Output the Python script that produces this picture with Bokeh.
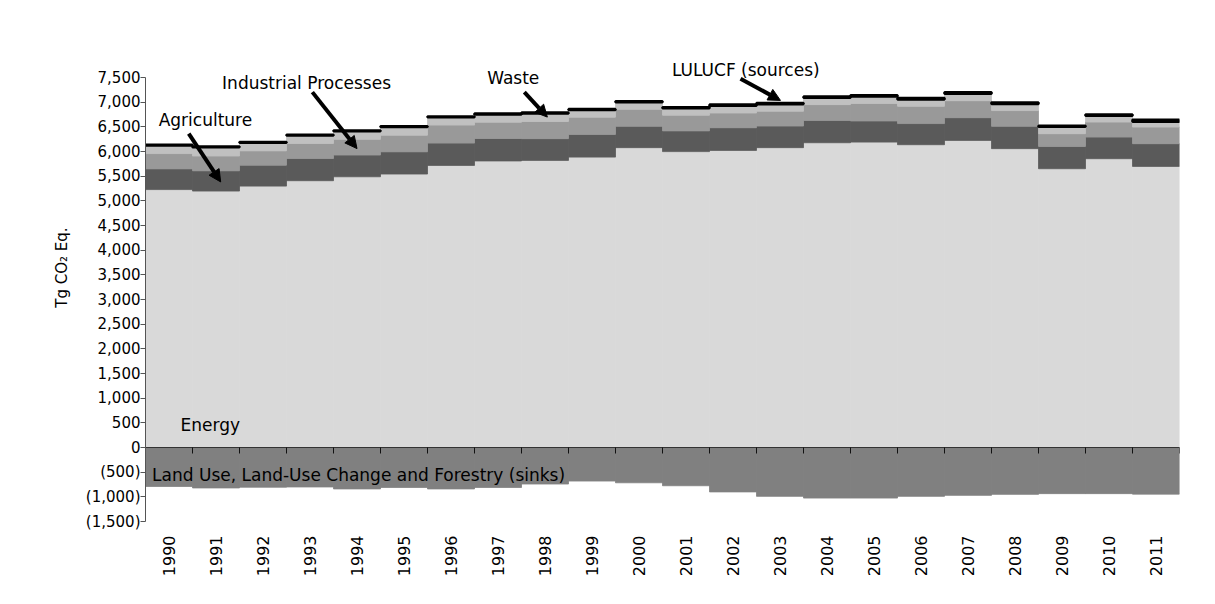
import math
from bokeh.plotting import figure
from bokeh.models import (ColumnDataSource, Range1d, LinearAxis, FixedTicker,
                          CustomJSTickFormatter, Label, Arrow, NormalHead)
from bokeh.embed import file_html
from bokeh.resources import INLINE

# ---- data (Tg CO2 Eq.) ----
years = [str(y) for y in range(1990, 2012)]
energy = [5230, 5200, 5300, 5410, 5490, 5545, 5720, 5810, 5822, 5888, 6080,
          6000, 6024, 6080, 6180, 6193, 6140, 6227, 6060, 5653, 5856, 5700]
agriculture = [420, 410, 425, 450, 440, 450, 452, 455, 440, 460, 432,
               420, 460, 438, 452, 428, 428, 460, 452, 452, 438, 460]
industrial = [310, 300, 290, 305, 318, 338, 365, 330, 350, 350, 345,
              318, 298, 300, 320, 355, 350, 345, 320, 258, 304, 337]
waste = [165, 180, 165, 160, 165, 165, 160, 160, 160, 145, 145,
         140, 150, 145, 140, 140, 140, 140, 135, 140, 130, 110]
lulucf_sources = [14, 14, 14, 15, 15, 15, 16, 17, 18, 18, 20,
                  20, 20, 22, 22, 25, 28, 30, 27, 22, 22, 37]
lulucf_sinks = [-790, -820, -805, -800, -840, -810, -840, -810, -740, -680, -715,
                -775, -900, -990, -1025, -1025, -990, -970, -950, -935, -935, -945]
y_ticks = list(range(-1500, 7501, 500))

FONT = "DejaVu Sans"
colors = ["#d9d9d9", "#5a5a5a", "#999999", "#c0c0c0", "#000000"]

x = [i + 0.5 for i in range(len(years))]
src = ColumnDataSource(dict(x=x, energy=energy, agriculture=agriculture,
                            industrial=industrial, waste=waste,
                            lulucf=lulucf_sources, sinks=lulucf_sinks))

p = figure(frame_width=1034, frame_height=508,
           x_range=Range1d(0, len(years)), y_range=Range1d(-1500, 8800),
           x_axis_location=None, output_backend="svg", toolbar_location=None,
           min_border_left=145, min_border_right=16, min_border_top=13,
           min_border_bottom=10)
p.grid.visible = False
p.outline_line_color = None
p.background_fill_color = "white"

p.vbar_stack(["energy", "agriculture", "industrial", "waste", "lulucf"], x="x",
             width=1, source=src, fill_color=colors, line_color=colors,
             line_width=[0.8, 0.8, 0.8, 0.8, 2.6])
p.vbar(x="x", top=0, bottom="sinks", width=1, source=src,
       fill_color="#808080", line_color="#808080", line_width=0.8)

# y axis
ya = p.yaxis[0]
ya.bounds = (y_ticks[0], y_ticks[-1])
ya.ticker = FixedTicker(ticks=y_ticks)
ya.formatter = CustomJSTickFormatter(code="""
const a = Math.abs(tick).toLocaleString('en-US');
return tick < 0 ? '(' + a + ')' : a;
""")
ya.axis_label = "Tg CO\u2082 Eq."
ya.axis_label_text_font = FONT
ya.axis_label_text_font_size = "15px"
ya.axis_label_text_font_style = "normal"
ya.axis_label_text_color = "black"
ya.axis_label_standoff = 12
ya.major_label_text_font = FONT
ya.major_label_text_font_size = "15px"
ya.major_label_text_color = "black"
ya.major_label_standoff = 0
ya.major_tick_out = 5
ya.major_tick_in = 0
ya.minor_tick_line_color = None
ya.axis_line_color = "#555555"
ya.major_tick_line_color = "#555555"

# zero-line category axis (ticks between categories, no labels)
zero_axis = LinearAxis(fixed_location=0,
                       ticker=FixedTicker(ticks=list(range(1, len(years) + 1))),
                       formatter=CustomJSTickFormatter(code="return '';"),
                       major_label_standoff=0,
                       major_tick_out=6, major_tick_in=0,
                       minor_tick_line_color=None,
                       axis_line_color="#333333", major_tick_line_color="#111111")
p.add_layout(zero_axis, "below")

# year labels at bottom
label_axis = LinearAxis(ticker=FixedTicker(ticks=x),
                        major_label_overrides={xi: yr for xi, yr in zip(x, years)},
                        major_label_orientation=math.pi / 2,
                        major_label_text_font=FONT,
                        major_label_text_font_size="16px",
                        major_label_text_color="black",
                        major_label_standoff=8,
                        axis_line_color=None, major_tick_line_color=None,
                        minor_tick_line_color=None)
p.add_layout(label_axis, "below")

# annotations
def lab(xx, yy, txt):
    p.add_layout(Label(x=xx, y=yy, text=txt, text_font=FONT,
                       text_font_size="17px", text_color="black",
                       text_baseline="alphabetic", text_align="left"))

lab(0.28, 6634, "Agriculture")
lab(1.63, 7386, "Industrial Processes")
lab(7.27, 7490, "Waste")
lab(11.2, 7650, "LULUCF (sources)")
lab(0.745, 460, "Energy")
lab(0.14, -552, "Land Use, Land-Use Change and Forestry (sinks)")

def arr(x0, y0, x1, y1):
    p.add_layout(Arrow(x_start=x0, y_start=y0, x_end=x1, y_end=y1,
                       line_width=4, line_color="black",
                       end=NormalHead(size=12, fill_color="black",
                                      line_color="black")))

arr(0.92, 6364, 1.60, 5385)
arr(3.55, 7206, 4.50, 6061)
arr(8.06, 7206, 8.55, 6700)
arr(12.66, 7478, 13.51, 7038)

open("out.html", "w").write(file_html(p, INLINE))
